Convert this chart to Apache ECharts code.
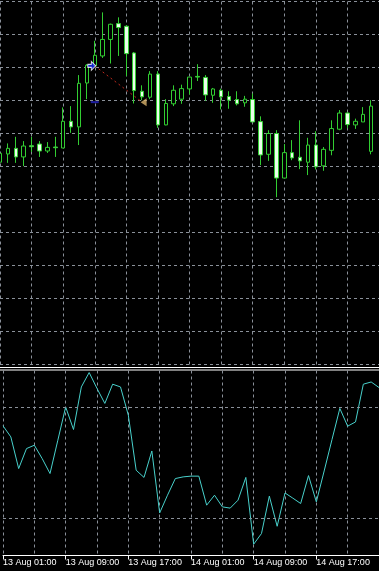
<!DOCTYPE html>
<html>
<head>
<meta charset="utf-8">
<script src="https://cdn.jsdelivr.net/npm/echarts@6/dist/echarts.min.js"></script>
<style>
html,body{margin:0;padding:0;background:#000;}
#c{width:379px;height:571px;}
</style>
</head>
<body>
<div id="c"></div>
<script>
// Hourly bars, index 0 = 13 Aug 01:00
const tickLabels = ['13 Aug 01:00', '13 Aug 09:00', '13 Aug 17:00', '14 Aug 01:00', '14 Aug 09:00', '14 Aug 17:00'];

const openP  = [1.33613,1.33638,1.33655,1.33629,1.33663,1.33668,1.33647,1.33659,1.33656,1.33737,1.33720,1.33853,1.33905,1.33935,1.33985,1.34033,1.34025,1.33944,1.33828,1.33810,1.33880,1.33726,1.33790,1.33804,1.33835,1.33873,1.33870,1.33816,1.33831,1.33812,1.33803,1.33793,1.33803,1.33736,1.33637,1.33700,1.33565,1.33642,1.33628,1.33613,1.33665,1.33602,1.33649,1.33713,1.33762,1.33726,1.33735,1.33646];
const closeP = [1.33640,1.33655,1.33629,1.33662,1.33660,1.33647,1.33658,1.33657,1.33737,1.33720,1.33852,1.33907,1.33937,1.33985,1.34031,1.34021,1.33942,1.33830,1.33811,1.33880,1.33726,1.33791,1.33831,1.33836,1.33871,1.33871,1.33817,1.33835,1.33811,1.33801,1.33790,1.33804,1.33735,1.33635,1.33700,1.33565,1.33642,1.33626,1.33617,1.33665,1.33599,1.33652,1.33715,1.33762,1.33727,1.33737,1.33758,1.33783];
const lowP   = [1.33607,1.33611,1.33611,1.33601,1.33644,1.33629,1.33641,1.33629,1.33656,1.33702,1.33665,1.33804,1.33905,1.33929,1.33912,1.33935,1.33874,1.33791,1.33801,1.33804,1.33717,1.33725,1.33783,1.33790,1.33818,1.33859,1.33799,1.33793,1.33773,1.33775,1.33785,1.33781,1.33735,1.33604,1.33617,1.33507,1.33565,1.33619,1.33592,1.33574,1.33591,1.33587,1.33634,1.33710,1.33716,1.33714,1.33735,1.33637];
const highP  = [1.33649,1.33670,1.33690,1.33677,1.33690,1.33677,1.33674,1.33690,1.33779,1.33783,1.33877,1.33910,1.33981,1.34067,1.34033,1.34052,1.34028,1.33947,1.33846,1.33889,1.33889,1.33804,1.33846,1.33848,1.33871,1.33910,1.33877,1.33838,1.33836,1.33828,1.33828,1.33814,1.33821,1.33752,1.33710,1.33710,1.33668,1.33680,1.33740,1.33687,1.33707,1.33659,1.33740,1.33771,1.33764,1.33745,1.33780,1.33801];

const oscValues = [70.1,64.1,47.0,57.8,59.6,52.4,44.3,62.3,80.3,68.1,91.1,98.9,90.3,82.2,92.6,91.1,75.8,46.1,42.2,56.5,23.0,32.6,41.6,42.5,42.9,42.9,27.2,32.6,26.3,25.6,29.9,42.2,6.1,11.9,32.1,15.8,33.8,31.0,28.1,43.2,29.0,45.7,62.7,79.5,69.9,72.2,92.6,93.8,90.8];
const oscLevels = [20, 80];

const tradeOpen  = [12, 1.33905];
const tradeClose = [18, 1.33795];
const stopLevel  = [12, 1.33795];

const candleData = openP.map((o, i) => [i, o, closeP[i], lowP[i], highP[i]]);
const oscData = oscValues.map((v, i) => [i, v]);

const gridColor = '#8a9099';
const dashed = { color: gridColor, type: [3, 3], width: 1 };
const green = '#32cd32';

const chart = echarts.init(document.getElementById('c'), null, { renderer: 'canvas' });
chart.setOption({
  backgroundColor: '#000',
  animation: false,
  grid: [
    { left: -0.5, width: 384, top: 1.5, height: 363 },
    { left: -0.5, width: 384, top: 370.5, height: 185 }
  ],
  xAxis: [
    { gridIndex: 0, type: 'value', min: 0, max: 48, interval: 4,
      axisLine: { show: false }, axisTick: { show: false }, axisLabel: { show: false },
      splitLine: { show: true, lineStyle: dashed } },
    { gridIndex: 1, type: 'value', min: 0, max: 48, interval: 8,
      axisLine: { show: true, onZero: false, lineStyle: { color: '#ffffff', width: 1 } },
      axisTick: { show: true, length: 4, lineStyle: { color: '#ffffff' } },
      axisLabel: { show: true, color: '#ffffff', fontSize: 9, fontFamily: 'Liberation Sans', align: 'left', margin: 3,
        showMinLabel: true, showMaxLabel: false,
        formatter: v => tickLabels[v / 8] || '' },
      splitLine: { show: true, lineStyle: dashed },
      minorTick: { show: false, splitNumber: 2 },
      minorSplitLine: { show: true, lineStyle: dashed } }
  ],
  yAxis: [
    { gridIndex: 0, type: 'value', min: 1.33, max: 1.341, interval: 0.001,
      axisLine: { show: false }, axisTick: { show: false }, axisLabel: { show: false },
      splitLine: { show: true, lineStyle: dashed } },
    { gridIndex: 1, type: 'value', min: 0, max: 100,
      axisLine: { show: false }, axisTick: { show: false }, axisLabel: { show: false },
      splitLine: { show: false } }
  ],
  graphic: [
    { type: 'rect', left: 0, top: 367, shape: { x: 0, y: 0, width: 379, height: 1 }, style: { fill: '#ffffff' }, silent: true },
    { type: 'rect', left: 0, top: 369.5, shape: { x: 0, y: 0, width: 379, height: 1 }, style: { fill: '#ffffff' }, silent: true }
  ],
  series: [
    { type: 'candlestick', xAxisIndex: 0, yAxisIndex: 0, data: candleData,
      encode: { x: 0, y: [1, 2, 3, 4] },
      barWidth: 4, clip: false,
      itemStyle: { color: '#000000', color0: '#eaffea', borderColor: green, borderColor0: green, borderWidth: 1 },
      emphasis: { disabled: true }, silent: true },
    { type: 'line', xAxisIndex: 0, yAxisIndex: 0, data: [tradeOpen, tradeClose],
      symbol: 'none', lineStyle: { color: '#c02a1e', type: [2, 3], width: 1 }, z: 5, silent: true },
    { type: 'scatter', xAxisIndex: 0, yAxisIndex: 0, data: [stopLevel],
      symbol: 'rect', symbolSize: [8, 2], itemStyle: { color: '#2424c8' }, z: 6, silent: true },
    { type: 'scatter', xAxisIndex: 0, yAxisIndex: 0, data: [tradeOpen],
      symbol: 'path://M0,3L4,3L4,0L9,4.5L4,9L4,6L0,6Z', symbolSize: [8, 9], symbolOffset: [-3, 0],
      itemStyle: { color: '#1a2cff', borderColor: '#ffffff', borderWidth: 1 }, z: 7, silent: true },
    { type: 'scatter', xAxisIndex: 0, yAxisIndex: 0, data: [tradeClose],
      symbol: 'path://M0,4L6,0L6,8Z', symbolSize: [6, 8], symbolOffset: [1.5, 0],
      itemStyle: { color: '#d9b36c' }, z: 7, silent: true },
    { type: 'line', xAxisIndex: 1, yAxisIndex: 1, data: oscData,
      symbol: 'none', lineStyle: { color: '#48d1cc', width: 1 }, silent: true,
      markLine: { silent: true, symbol: 'none', label: { show: false },
        lineStyle: dashed, data: oscLevels.map(l => ({ yAxis: l })) } }
  ]
});
</script>
</body>
</html>
